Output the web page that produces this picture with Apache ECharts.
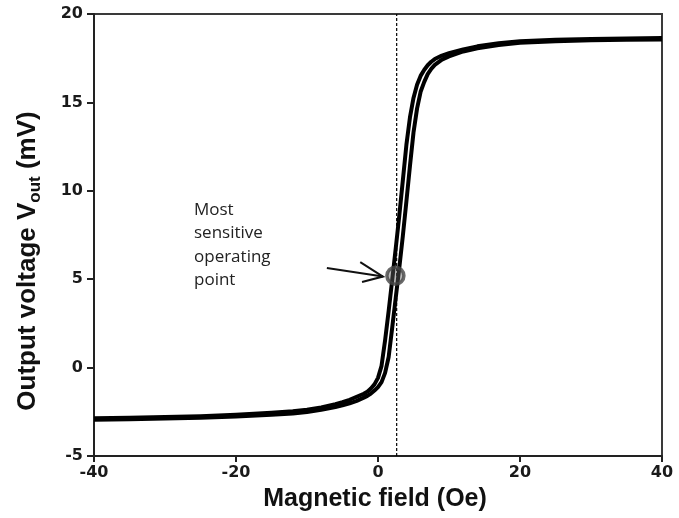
<!DOCTYPE html>
<html>
<head>
<meta charset="utf-8">
<script src="https://cdn.jsdelivr.net/npm/echarts@6/dist/echarts.min.js"></script>
<style>
html,body{margin:0;padding:0;background:#fff;}
#chart{width:679px;height:518px;}
</style>
</head>
<body>
<div id="chart"></div>
<script>
// ---- data ----
const xTicks = [-40, -20, 0, 20, 40];
const yTicks = [-5, 0, 5, 10, 15, 20];

const fieldValues = [-40,-35,-30,-25,-20,-15,-12,-10,-8,-6,-5,-4,-3,-2,-1.5,-1,-0.5,0,0.5,1,1.5,2,2.5,3,3.5,4,4.5,5,5.5,6,6.5,7,7.5,8,9,10,12,14,17,20,25,30,35,40];

// branch swept from + to - field (shifted to lower field)
const voltageDescending = [-2.87,-2.84,-2.80,-2.75,-2.67,-2.56,-2.47,-2.38,-2.25,-2.07,-1.96,-1.82,-1.65,-1.48,-1.36,-1.18,-0.95,-0.58,0.1,1.55,3.2,4.95,6.75,8.6,10.6,12.6,14.15,15.25,16.0,16.5,16.83,17.1,17.3,17.45,17.65,17.78,18.0,18.17,18.34,18.46,18.54,18.59,18.62,18.64];

// branch swept from - to + field (shifted to higher field)
const voltageAscending = [-2.95,-2.92,-2.88,-2.83,-2.76,-2.67,-2.59,-2.51,-2.39,-2.23,-2.13,-2.02,-1.88,-1.70,-1.60,-1.47,-1.30,-1.10,-0.82,-0.3,0.6,2.25,3.95,5.65,7.45,9.4,11.4,13.3,14.65,15.6,16.15,16.6,16.9,17.12,17.42,17.6,17.88,18.06,18.24,18.37,18.46,18.51,18.54,18.56];

const operatingPoint = [2.45, 5.2];
const dashedField = 2.63;

const arrowShaft = [[-7.2, 5.63], [0.7, 5.15]];
const arrowHead = [[-2.5, 5.97], [0.7, 5.15], [-2.25, 4.84]];

const annotationLines = ['Most', 'sensitive', 'operating', 'point'];

// ---- build ----
const descData = fieldValues.map((f, i) => [f, voltageDescending[i]]);
const ascData = fieldValues.map((f, i) => [f, voltageAscending[i]]);

const chart = echarts.init(document.getElementById('chart'), null, {renderer: 'canvas'});

const tickFont = {color: '#1a1a1a', fontFamily: 'DejaVu Sans', fontWeight: 'bold', fontSize: 16};

chart.setOption({
  animation: false,
  backgroundColor: '#fff',
  grid: {left: 94, right: 17, top: 14, bottom: 62, show: true, borderColor: '#3a3a3a', borderWidth: 2, backgroundColor: 'transparent'},
  xAxis: {
    type: 'value',
    min: xTicks[0], max: xTicks[xTicks.length - 1], interval: xTicks[1] - xTicks[0],
    name: 'Magnetic field (Oe)',
    nameLocation: 'middle', nameGap: 31,
    nameTextStyle: {fontFamily: 'Liberation Sans', fontWeight: 'bold', fontSize: 25, color: '#111', padding: [0, 6, 0, 0]},
    axisLine: {show: true, onZero: false, lineStyle: {color: '#222', width: 2}},
    axisTick: {show: true, inside: false, length: 6, lineStyle: {color: '#222', width: 2}},
    axisLabel: Object.assign({margin: 9}, tickFont),
    splitLine: {show: false}
  },
  yAxis: {
    type: 'value',
    min: yTicks[0], max: yTicks[yTicks.length - 1], interval: yTicks[1] - yTicks[0],
    name: 'Output voltage V{sub|out} (mV)',
    nameLocation: 'middle', nameGap: 50, nameRotate: 90,
    nameTextStyle: {
      fontFamily: 'Liberation Sans', fontWeight: 'bold', fontSize: 26, color: '#111',
      padding: [0, 52, 0, 0],
      rich: {
        sub: {fontFamily: 'Liberation Sans', fontWeight: 'bold', fontSize: 17, color: '#111', padding: [16, 0, 0, 0]}
      }
    },
    axisLine: {show: true, onZero: false, lineStyle: {color: '#222', width: 2}},
    axisTick: {show: true, inside: false, length: 7, lineStyle: {color: '#222', width: 2}},
    axisLabel: Object.assign({margin: 11}, tickFont),
    splitLine: {show: false}
  },
  series: [
    {
      type: 'line', data: [[dashedField, yTicks[0]], [dashedField, yTicks[yTicks.length - 1]]],
      symbol: 'none', lineStyle: {color: '#000', width: 1.2, type: [3, 2]}, z: 1, silent: true
    },
    {
      type: 'line', data: descData, symbol: 'none', smooth: false,
      lineStyle: {color: '#000', width: 4, join: 'round'}, z: 2
    },
    {
      type: 'line', data: ascData, symbol: 'none', smooth: false,
      lineStyle: {color: '#000', width: 4, join: 'round'}, z: 2
    },
    {
      type: 'scatter', data: [operatingPoint], symbol: 'circle', symbolSize: 17,
      itemStyle: {color: 'rgba(100,100,100,0.55)', borderColor: '#454545', borderWidth: 3.5}, z: 5
    },
    {
      type: 'line', data: arrowShaft, symbol: 'none',
      lineStyle: {color: '#111', width: 2}, z: 4
    },
    {
      type: 'line', data: arrowHead, symbol: 'none',
      lineStyle: {color: '#111', width: 2, join: 'miter'}, z: 4
    }
  ],
  graphic: [{
    type: 'text', left: 194, top: 198,
    style: {
      text: annotationLines.join('\n'),
      font: '17px "Open Sans"',
      fill: '#222',
      lineHeight: 23.5
    }
  }]
});
</script>
</body>
</html>
